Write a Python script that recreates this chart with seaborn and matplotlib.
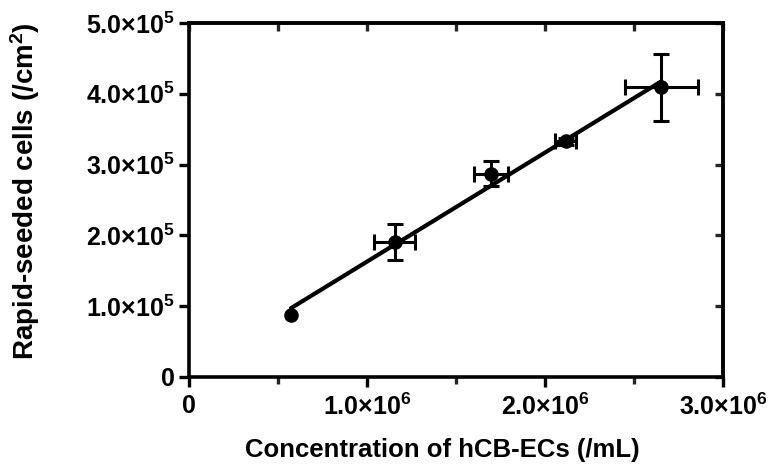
import matplotlib
matplotlib.use("Agg")
import matplotlib.pyplot as plt
import seaborn as sns
import numpy as np
import pandas as pd
from matplotlib.ticker import FuncFormatter, MultipleLocator

# Data
conc = [0.573e6, 1.157e6, 1.697e6, 2.116e6, 2.654e6]
cells = [0.873e5, 1.906e5, 2.873e5, 3.328e5, 4.089e5]
conc_err = [0.0, 0.115e6, 0.097e6, 0.057e6, 0.204e6]
cells_err = [0.0, 0.249e5, 0.18e5, 0.05e5, 0.469e5]

x_label = "Concentration of hCB-ECs (/mL)"
y_label = "Rapid-seeded cells (/cm$\\mathbf{^{2}}$)"

sns.set_theme(style="ticks")
plt.rcParams["font.family"] = ["Liberation Sans", "DejaVu Sans"]
plt.rcParams["font.weight"] = "bold"
plt.rcParams["mathtext.fontset"] = "custom"
plt.rcParams["mathtext.rm"] = "Liberation Sans"
plt.rcParams["mathtext.bf"] = "Liberation Sans:bold"
plt.rcParams["text.color"] = "black"
plt.rcParams["axes.labelcolor"] = "black"

df = pd.DataFrame({"conc": conc, "cells": cells})

fig = plt.figure(figsize=(7.77, 4.73), dpi=100)
ax = fig.add_axes([0.2432, 0.203, 0.6873, 0.7484])

mask = [(a > 0 or b > 0) for a, b in zip(conc_err, cells_err)]
ex = [v for v, m in zip(conc, mask) if m]
ey = [v for v, m in zip(cells, mask) if m]
exe = [v for v, m in zip(conc_err, mask) if m]
eye = [v for v, m in zip(cells_err, mask) if m]
ax.errorbar(ex, ey, xerr=exe, yerr=eye, fmt="none",
            ecolor="black", elinewidth=2.2, capsize=5.5, capthick=2.2, zorder=2)
sns.regplot(data=df, x="conc", y="cells", ax=ax, ci=None, truncate=True,
            scatter_kws=dict(s=110, color="black", alpha=1, zorder=3, linewidths=0),
            line_kws=dict(color="black", lw=3.0, zorder=2))

ax.set_xlim(0, 3.0e6)
ax.set_ylim(0, 5.0e5)

def fmt(v, exp):
    if abs(v) < 1e-9:
        return "0"
    return "$\\mathbf{%.1f}\\mathrm{\\times}\\mathbf{10^{%d}}$" % (v / 10**exp, exp)

ax.xaxis.set_major_locator(MultipleLocator(1.0e6))
ax.xaxis.set_minor_locator(MultipleLocator(0.5e6))
ax.yaxis.set_major_locator(MultipleLocator(1.0e5))
ax.xaxis.set_major_formatter(FuncFormatter(lambda v, p: fmt(v, 6)))
ax.yaxis.set_major_formatter(FuncFormatter(lambda v, p: fmt(v, 5)))

for s in ax.spines.values():
    s.set_linewidth(2.6)
    s.set_color("black")

ax.tick_params(axis="both", which="major", direction="out", length=7, width=2.4,
               labelsize=18, colors="black", pad=3)
ax.tick_params(axis="x", which="major", pad=5)
ax.tick_params(axis="x", which="minor", direction="out", length=5, width=2.4)

top = ax.secondary_xaxis("top")
top.xaxis.set_major_locator(MultipleLocator(0.5e6))
top.tick_params(direction="in", length=6, width=2.4, labeltop=False)
top.spines["top"].set_linewidth(2.6)
right = ax.secondary_yaxis("right")
right.yaxis.set_major_locator(MultipleLocator(1.0e5))
right.tick_params(direction="in", length=6, width=2.4, labelright=False)
right.spines["right"].set_linewidth(2.6)

ax.set_xlabel(x_label, fontsize=18.5, fontweight="bold")
ax.set_ylabel(y_label, fontsize=20, fontweight="bold")
ax.xaxis.set_label_coords(0.475, -0.172)
ax.yaxis.set_label_coords(-0.275, 0.524)

fig.savefig("out.png", dpi=100)
